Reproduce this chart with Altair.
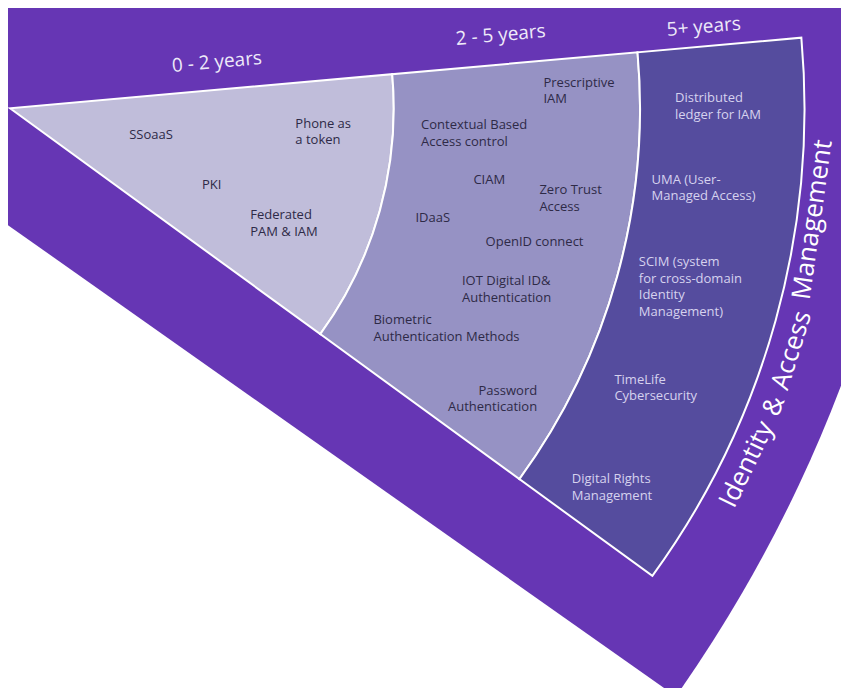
import math
import altair as alt
import pandas as pd

# ---------------- data ----------------
# Rings of the radar (time horizons); radial positions in % of the radar radius,
# angles in degrees clockwise from north.
ring_names = ["0 - 2 years", "2 - 5 years", "5+ years"]
ring_inner = [0.0, 48.3, 79.3]
ring_outer = [48.3, 79.3, 100.0]
ring_fill = ["#C0BDDA", "#9692C4", "#554C9E"]
ring_text = ["#2E2A47", "#2E2A47", "#D6D2EE"]
wedge_start = 84.9
wedge_end = 126.05

# ring captions (along the upper edge)
year_theta = [79.0, 82.2, 83.8]
year_radius = [26.6, 62.4, 87.9]

# technologies placed on the radar
labels = [
    "SSoaaS", "Phone as\na token", "PKI", "Federated\nPAM & IAM",
    "Prescriptive\nIAM", "Contextual Based\nAccess control", "CIAM",
    "Zero Trust\nAccess", "IDaaS", "OpenID connect",
    "IOT Digital ID&\nAuthentication", "Biometric\nAuthentication Methods",
    "Password\nAuthentication",
    "Distributed\nledger for IAM", "UMA (User-\nManaged Access)",
    "SCIM (system\nfor cross-domain\nIdentity\nManagement)",
    "TimeLife\nCybersecurity", "Digital Rights\nManagement",
]
label_ring = [0, 0, 0, 0, 1, 1, 1, 1, 1, 1, 1, 1, 1, 2, 2, 2, 2, 2]
label_theta = [104.6, 93.9, 112.8, 114.8, 87.7, 92.9, 99.3, 99.2, 105.7,
               106.1, 111.4, 120.7, 118.5, 89.5, 96.7, 104.1, 114.5, 123.7]
label_radius = [15.5, 36.0, 26.2, 33.3, 67.2, 51.8, 59.1, 67.5, 53.0,
                62.3, 61.1, 53.2, 75.5, 83.7, 81.3, 81.6, 83.6, 85.0]
label_align = ["left"] * 12 + ["right"] + ["left"] * 5

# domain title, curved along the outer band
title_words = ["Identity", "&", "Access", "Management"]
title_theta = [115.8, 111.3, 107.2, 97.9]
title_radius = [103.0, 103.2, 103.0, 102.0]

# outer purple band
band_theta = [45.0, 125.2]
band_radius = [176.5]

# ---------------- layout ----------------
CX, CY = 2, 100.3        # radar centre (chart px)
BX, BY = -478, -120      # band centre (chart px)
PURPLE = "#6636B4"
FONT = "Open Sans"

theta_scale = alt.Scale(domain=[0, 360], range=[0, 2 * math.pi])
radius_scale = alt.Scale(type="linear", domain=[0, 100], range=[0, 794.5])

ring_df = pd.DataFrame({
    "ring": ring_names, "r0": ring_inner, "r1": ring_outer,
    "t0": [wedge_start] * 3, "t1": [wedge_end] * 3,
})
band_df = pd.DataFrame({"t0": [band_theta[0]], "t1": [band_theta[1]], "r": band_radius})
year_df = pd.DataFrame({"ring": ring_names, "theta": year_theta, "radius": year_radius})
label_df = pd.DataFrame({
    "label": labels, "ring": [ring_names[i] for i in label_ring],
    "theta": label_theta, "radius": label_radius, "align": label_align,
})
title_df = pd.DataFrame({"word": title_words, "theta": title_theta, "radius": title_radius})

band = alt.Chart(band_df).mark_arc(color=PURPLE).encode(
    x=alt.value(BX), y=alt.value(BY),
    theta=alt.Theta("t0:Q", scale=theta_scale, stack=None),
    theta2="t1:Q",
    radius=alt.Radius("r:Q", scale=radius_scale),
)

rings = alt.Chart(ring_df).mark_arc(stroke="white", strokeWidth=2).encode(
    x=alt.value(CX), y=alt.value(CY),
    theta=alt.Theta("t0:Q", scale=theta_scale, stack=None),
    theta2="t1:Q",
    radius=alt.Radius("r1:Q", scale=radius_scale),
    radius2="r0:Q",
    fill=alt.Fill("ring:N", scale=alt.Scale(domain=ring_names, range=ring_fill), legend=None),
)

years = alt.Chart(year_df).mark_text(
    align="center", baseline="alphabetic", font=FONT, fontSize=19,
    angle=355, color="#EEEAF9",
).encode(
    x=alt.value(CX), y=alt.value(CY),
    theta=alt.Theta("theta:Q", scale=theta_scale, stack=None),
    radius=alt.Radius("radius:Q", scale=radius_scale),
    text="ring:N",
)


def label_layer(al):
    return alt.Chart(label_df).transform_filter(
        alt.datum.align == al
    ).mark_text(
        align=al, baseline="alphabetic", font=FONT, fontSize=13,
        lineBreak="\n", lineHeight=16.5,
    ).encode(
        x=alt.value(CX), y=alt.value(CY),
        theta=alt.Theta("theta:Q", scale=theta_scale, stack=None),
        radius=alt.Radius("radius:Q", scale=radius_scale),
        text="label:N",
        color=alt.Color("ring:N", scale=alt.Scale(domain=ring_names, range=ring_text), legend=None),
    )


title = alt.Chart(title_df).transform_calculate(
    angle="datum.theta + 180"
).mark_text(
    align="center", baseline="middle", font=FONT, fontSize=26, color="white",
).encode(
    x=alt.value(CX), y=alt.value(CY),
    theta=alt.Theta("theta:Q", scale=theta_scale, stack=None),
    radius=alt.Radius("radius:Q", scale=radius_scale),
    angle=alt.Angle("angle:Q", scale=None),
    text="word:N",
)

chart = alt.layer(
    band, rings, years, label_layer("left"), label_layer("right"), title
).resolve_scale(
    color="independent", fill="independent"
).properties(
    width=833, height=680, padding=0, autosize=alt.AutoSizeParams(type="none"),
    background="white",
).configure_view(stroke=None)

chart.save("out.html", embed_options={"renderer": "svg", "actions": False})
